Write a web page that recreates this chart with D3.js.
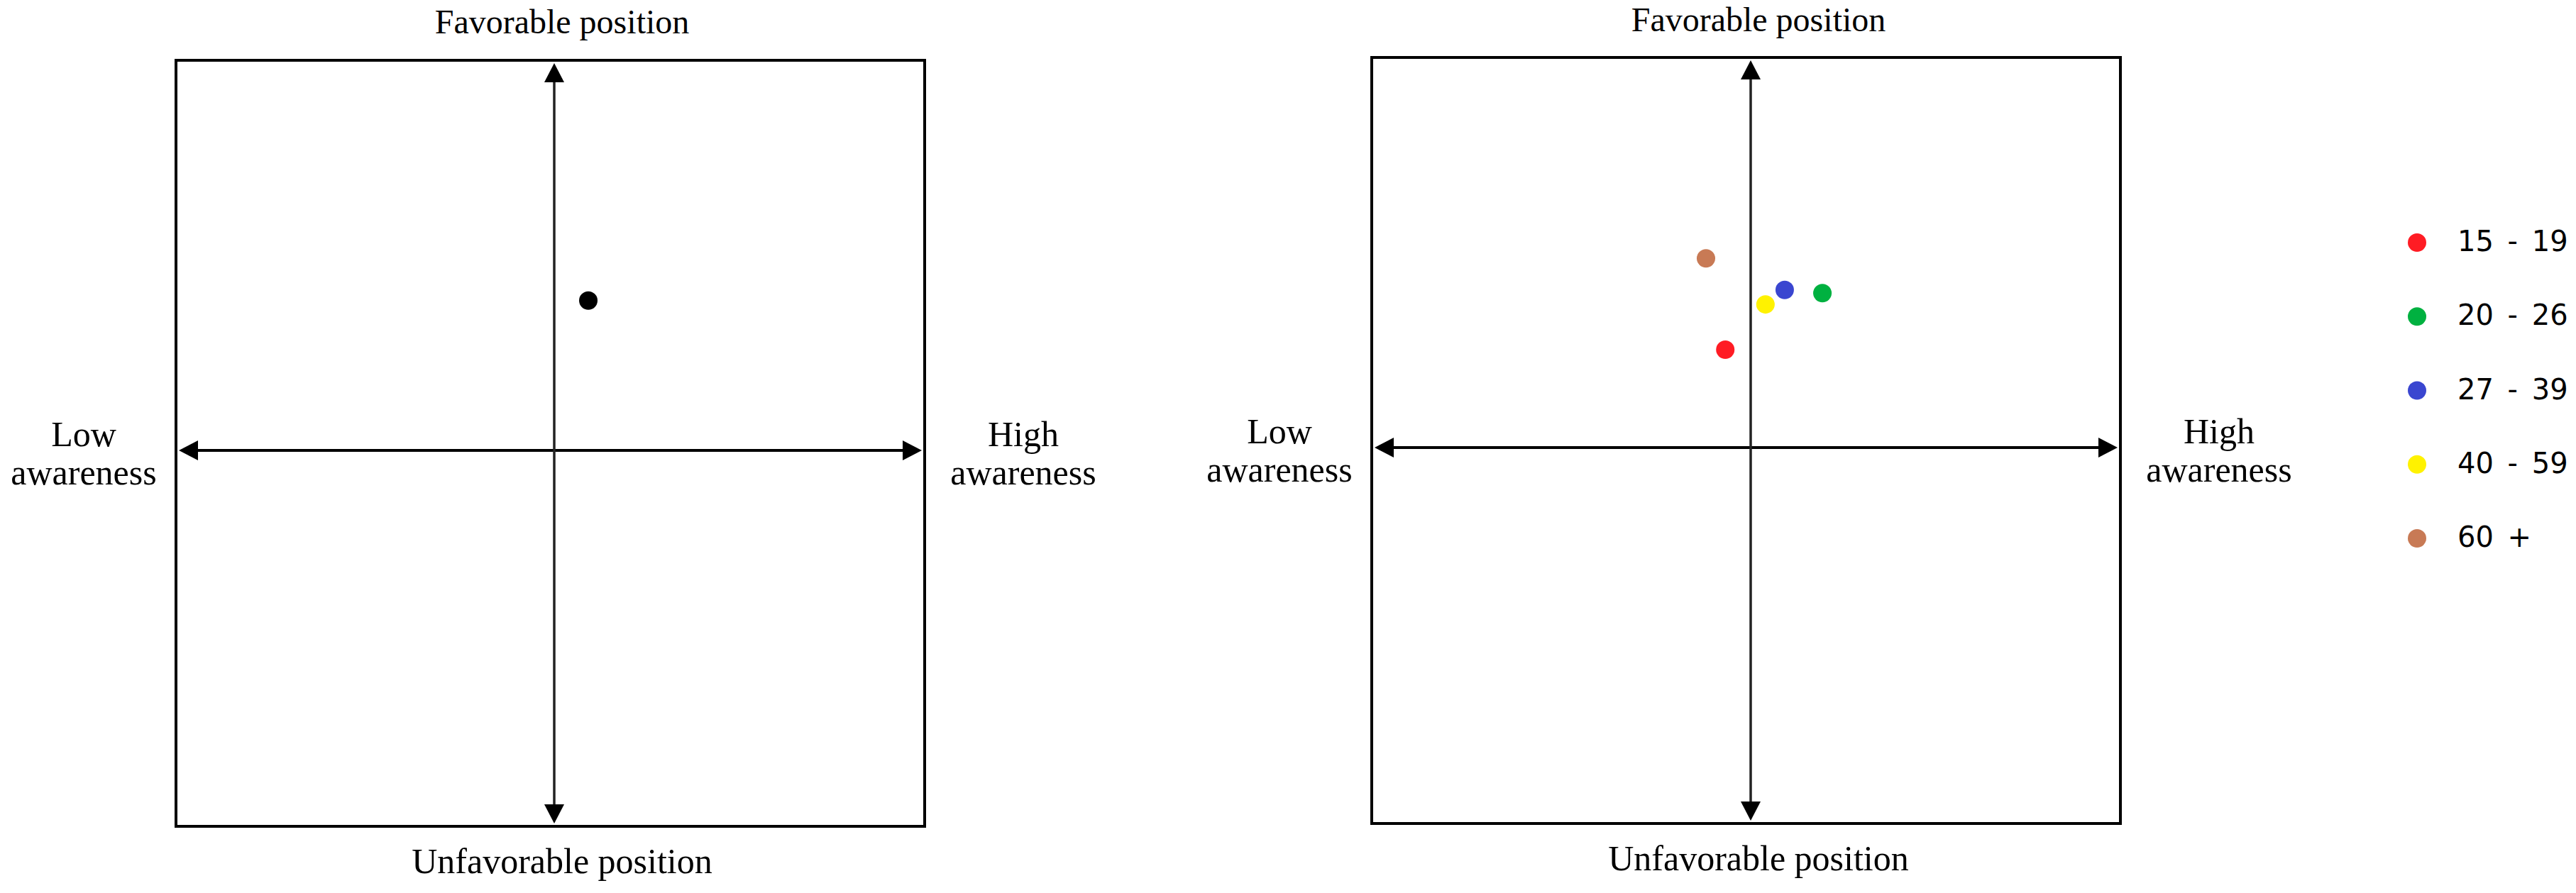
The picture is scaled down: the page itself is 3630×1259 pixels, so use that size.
<!DOCTYPE html>
<html><head><meta charset="utf-8">
<script src="https://cdn.jsdelivr.net/npm/d3@7"></script>
<style>html,body{margin:0;padding:0;background:#fff;overflow:hidden}</style>
</head><body><svg id="chart"></svg>
<script>
// ---- data ----
const overallX = [0.092];
const overallY = [0.384];
const ageGroups = ["15 - 19", "20 - 26", "27 - 39", "40 - 59", "60 +"];
const ageX = [-0.067, 0.194, 0.092, 0.040, -0.118];
const ageY = [0.251, 0.396, 0.404, 0.367, 0.485];
const ageColors = ["#ff1c24", "#00b140", "#3a46d0", "#fff200", "#c87a55"];
const topLabel = "Favorable position";
const bottomLabel = "Unfavorable position";
const leftLabel = ["Low", "awareness"];
const rightLabel = ["High", "awareness"];

// ---- layout ----
const W = 3630, H = 1259;
const svg = d3.select("#chart").attr("width", W).attr("height", H);
const serif = "'Liberation Serif','Times New Roman',serif";

const panels = [
  {left: 248, right: 1303, top: 85, bottom: 1165, cx: 781, cy: 635, topOff: 38,
   points: overallX.map((x, i) => ({x, y: overallY[i], c: "#000"}))},
  {left: 1933, right: 2988, top: 81, bottom: 1161, cx: 2467, cy: 631, topOff: 37,
   points: ageX.map((x, i) => ({x, y: ageY[i], c: ageColors[i]}))}
];

const headL = 27, headW = 14, inset = 4;

panels.forEach(p => {
  const x = d3.scaleLinear().domain([-1, 0, 1]).range([p.left, p.cx, p.right]);
  const y = d3.scaleLinear().domain([-1, 0, 1]).range([p.bottom, p.cy, p.top]);
  const g = svg.append("g");

  g.append("rect")
    .attr("x", x(-1)).attr("y", y(1))
    .attr("width", x(1) - x(-1)).attr("height", y(-1) - y(1))
    .attr("fill", "none").attr("stroke", "#000").attr("stroke-width", 4);

  // horizontal arrow
  const hx0 = x(-1) + inset, hx1 = x(1) - inset, hy = y(0);
  g.append("line").attr("x1", hx0 + headL - 2).attr("x2", hx1 - headL + 2)
    .attr("y1", hy).attr("y2", hy).attr("stroke", "#000").attr("stroke-width", 4);
  g.append("path").attr("d", `M${hx0},${hy}L${hx0 + headL},${hy - headW}L${hx0 + headL},${hy + headW}Z`).attr("fill", "#000");
  g.append("path").attr("d", `M${hx1},${hy}L${hx1 - headL},${hy - headW}L${hx1 - headL},${hy + headW}Z`).attr("fill", "#000");

  // vertical arrow
  const vx = x(0), vy0 = y(1) + inset, vy1 = y(-1) - inset;
  g.append("line").attr("x1", vx).attr("x2", vx)
    .attr("y1", vy0 + headL - 2).attr("y2", vy1 - headL + 2)
    .attr("stroke", "#222").attr("stroke-width", 3.5);
  g.append("path").attr("d", `M${vx},${vy0}L${vx - headW},${vy0 + headL}L${vx + headW},${vy0 + headL}Z`).attr("fill", "#000");
  g.append("path").attr("d", `M${vx},${vy1}L${vx - headW},${vy1 - headL}L${vx + headW},${vy1 - headL}Z`).attr("fill", "#000");

  // labels
  const fs = 50;
  g.append("text").attr("x", x(0) + 11).attr("y", y(1) - p.topOff)
    .attr("text-anchor", "middle").attr("font-family", serif).attr("font-size", 48).text(topLabel);
  g.append("text").attr("x", x(0) + 11).attr("y", y(-1) + 66)
    .attr("text-anchor", "middle").attr("font-family", serif).attr("font-size", fs).text(bottomLabel);
  leftLabel.forEach((t, i) => {
    g.append("text").attr("x", x(-1) - 130).attr("y", y(0) - 6 + i * 54)
      .attr("text-anchor", "middle").attr("font-family", serif).attr("font-size", fs).text(t);
  });
  rightLabel.forEach((t, i) => {
    g.append("text").attr("x", x(1) + 139).attr("y", y(0) - 6 + i * 54)
      .attr("text-anchor", "middle").attr("font-family", serif).attr("font-size", fs).text(t);
  });

  // points
  g.selectAll("circle.pt").data(p.points).enter().append("circle")
    .attr("class", "pt")
    .attr("cx", d => x(d.x)).attr("cy", d => y(d.y)).attr("r", 13)
    .attr("fill", d => d.c);
});

// legend
const ly = d3.scalePoint().domain(ageGroups).range([342, 759]);
const leg = svg.append("g");
ageGroups.forEach((a, i) => {
  leg.append("circle").attr("cx", 3406).attr("cy", ly(a)).attr("r", 13).attr("fill", ageColors[i]);
  leg.append("text").attr("x", 3463).attr("y", ly(a) + 12)
    .attr("font-family", "'DejaVu Sans',Verdana,sans-serif").attr("font-size", 40)
    .attr("word-spacing", 7)
    .attr("fill", "#000").attr("xml:space", "preserve").text(a);
});
</script>
</body></html>
